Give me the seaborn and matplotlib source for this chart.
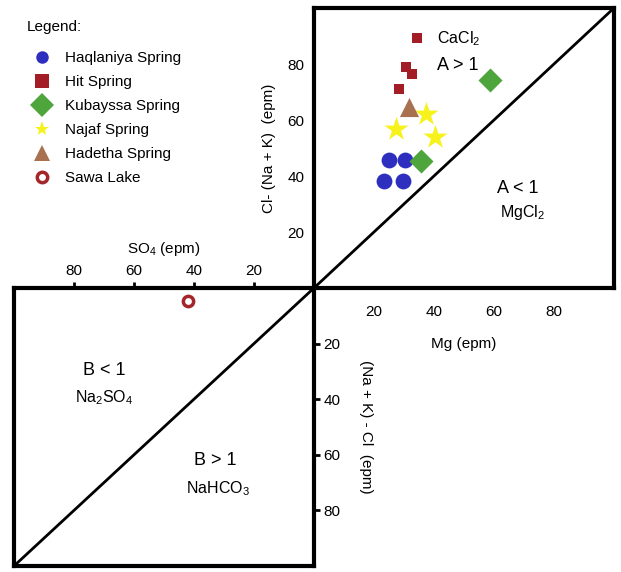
import pandas as pd
import matplotlib.pyplot as plt
import seaborn as sns
from matplotlib.lines import Line2D

# Sample points
sites = ['Haqlaniya Spring'] * 4 + ['Hit Spring'] * 4 + ['Kubayssa Spring'] * 2 \
    + ['Najaf Spring'] * 3 + ['Hadetha Spring']
mg = [25.1, 30.2, 23.3, 29.7,
      34.2, 30.7, 32.6, 28.4,
      58.6, 35.6,
      37.2, 27.3, 40.4,
      31.7]
cl_nak = [45.7, 45.7, 38.2, 38.2,
          89.4, 79.0, 76.4, 71.0,
          74.3, 45.4,
          62.0, 56.9, 53.8,
          64.5]

# Sawa Lake falls in the lower-left (SO4 / (Na+K)-Cl) field
sawa_so4 = [42.0]
sawa_nakcl = [4.6]

ticks = [20, 40, 60, 80]

colors = {'Haqlaniya Spring': '#2f2fbf', 'Hit Spring': '#a31d26',
          'Kubayssa Spring': '#4da53b', 'Najaf Spring': '#f7f21c',
          'Hadetha Spring': '#a8714f', 'Sawa Lake': '#a3262a'}
markers = {'Haqlaniya Spring': 'o', 'Hit Spring': 's', 'Kubayssa Spring': 'D',
           'Najaf Spring': '*', 'Hadetha Spring': '^'}
sizes = {'Haqlaniya Spring': 130, 'Hit Spring': 42, 'Kubayssa Spring': 150,
         'Najaf Spring': 330, 'Hadetha Spring': 190}
# marker sizes used in the legend box (points)
leg_sizes = {'Haqlaniya Spring': 9, 'Hit Spring': 10, 'Kubayssa Spring': 12,
             'Najaf Spring': 11, 'Hadetha Spring': 12}

sns.set_style('white')
plt.rcParams['font.family'] = ['Liberation Sans', 'DejaVu Sans']
plt.rcParams['mathtext.default'] = 'regular'
plt.rcParams['text.color'] = 'black'
plt.rcParams['axes.labelcolor'] = 'black'
FS = 11

fig = plt.figure(figsize=(6.21, 5.72), dpi=100)
ax1 = fig.add_axes([0.5056, 0.4965, 0.4831, 0.4895])
ax2 = fig.add_axes([0.0225, 0.0105, 0.4831, 0.4860])

df = pd.DataFrame({'site': sites, 'Mg': mg, 'Cl': cl_nak})
for name, grp in df.groupby('site', sort=False):
    sns.scatterplot(data=grp, x='Mg', y='Cl', ax=ax1, color=colors[name],
                    marker=markers[name], s=sizes[name], linewidth=0,
                    legend=False, zorder=3)

sawa = pd.DataFrame({'SO4': sawa_so4, 'NaKCl': sawa_nakcl})
sns.scatterplot(data=sawa, x='SO4', y='NaKCl', ax=ax2, marker='o', s=55,
                facecolor='white', edgecolor=colors['Sawa Lake'],
                linewidth=2.5, legend=False, zorder=3)

for ax in (ax1, ax2):
    ax.set_xlim(0, 100)
    ax.set_ylim(0, 100)
    ax.axline((0, 0), slope=1, color='black', lw=2)
    ax.set_xticks(ticks)
    ax.set_yticks(ticks)
    for sp in ax.spines.values():
        sp.set_linewidth(3)
        sp.set_color('black')
    ax.tick_params(direction='out', length=4, width=2, labelsize=FS,
                   colors='black', pad=3)
    ax.set_facecolor('white')

ax1.tick_params(axis='x', pad=8)
ax2.invert_xaxis()
ax2.invert_yaxis()
ax2.xaxis.set_ticks_position('top')
ax2.xaxis.set_label_position('top')
ax2.yaxis.set_ticks_position('right')
ax2.yaxis.set_label_position('right')

ax1.set_xlabel('Mg (epm)', fontsize=FS, labelpad=13)
ax1.set_ylabel('Cl- (Na + K)  (epm)', fontsize=FS, labelpad=8)
ax2.set_xlabel('SO$_4$ (epm)', fontsize=FS, labelpad=8)
ax2.set_ylabel('(Na + K) - Cl  (epm)', fontsize=FS, rotation=270, labelpad=23)

ax1.text(41, 89, 'CaCl$_2$', fontsize=11.5, va='center')
ax1.text(41, 79.5, 'A > 1', fontsize=13, va='center')
ax1.text(61, 35.7, 'A < 1', fontsize=13, va='center')
ax1.text(62, 26.8, 'MgCl$_2$', fontsize=11.5, va='center')

ax2.text(70, 29.5, 'B < 1', fontsize=13, ha='center', va='center')
ax2.text(70, 39.6, 'Na$_2$SO$_4$', fontsize=11.5, ha='center', va='center')
ax2.text(33, 62, 'B > 1', fontsize=13, ha='center', va='center')
ax2.text(32, 72, 'NaHCO$_3$', fontsize=11.5, ha='center', va='center')

handles = [Line2D([], [], ls='', marker=markers[k], color=colors[k],
                  markersize=leg_sizes[k], markeredgewidth=0)
           for k in markers]
handles.append(Line2D([], [], ls='', marker='o', markerfacecolor='white',
                      markeredgecolor=colors['Sawa Lake'], markeredgewidth=2.5,
                      markersize=7.5))
labels = list(markers) + ['Sawa Lake']
fig.text(27 / 621, 1 - 27 / 572, 'Legend:', fontsize=FS, va='center')
fig.legend(handles, labels, loc='upper left', bbox_to_anchor=(31 / 621, 1 - 51 / 572),
           frameon=False, fontsize=FS, borderpad=0, handletextpad=0.8,
           labelspacing=0.66, handlelength=1.4, borderaxespad=0)

fig.savefig('out.png', dpi=100)
